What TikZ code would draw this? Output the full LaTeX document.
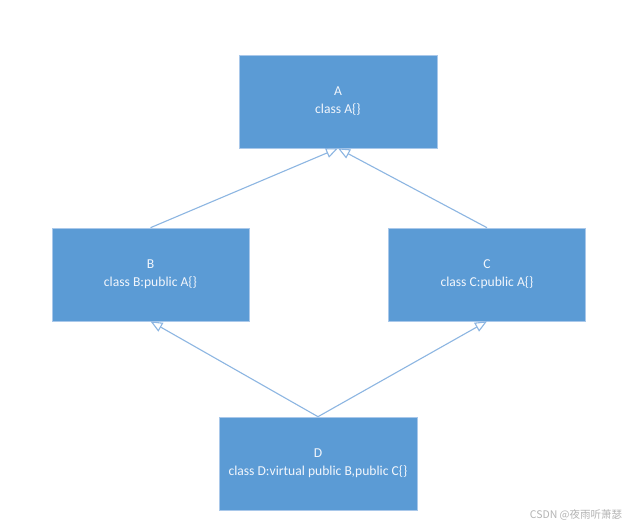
\documentclass[tikz,border=0pt]{standalone}
\usepackage{fontspec}
\setmainfont{Carlito}
\newfontfamily\cjkfont{Noto Sans CJK SC}
\usetikzlibrary{arrows.meta}
\definecolor{boxfill}{HTML}{5B9BD5}
\definecolor{boxline}{HTML}{A9C8EA}
\definecolor{arrowcol}{HTML}{8DB6E2}
\definecolor{txtcol}{HTML}{F2F6FC}
\definecolor{wmcol}{HTML}{B4B4B4}
\tikzset{
  classbox/.style={draw=boxline, line width=0.6pt, fill=boxfill, minimum width=197pt, minimum height=93pt,
    inner sep=0pt, text=txtcol, font=\fontsize{13.6}{18}\selectfont, align=center},
  inherit/.style={draw=arrowcol, line width=1.1pt, -{Triangle[open, length=12pt, width=10pt]}},
  wmark/.style={text=wmcol, font=\cjkfont\fontsize{10.5}{12}\selectfont, inner sep=0pt}
}
\begin{document}
\begin{tikzpicture}[x=1pt,y=1pt]
\useasboundingbox (0,0) rectangle (633,527);
\fill[white] (0,0) rectangle (633,527);
\node[classbox, minimum width=198pt] (A) at (338,425.5) {A\\class A\{\}};
\node[classbox] (B) at (150.5,252.5) {B\\class B:public A\{\}};
\node[classbox] (C) at (487,252.5) {C\\class C:public A\{\}};
\node[classbox, minimum width=198pt] (D) at (318,63.5) {D\\class D:virtual public B,public C\{\}};
\draw[inherit] (B.north) -- (A.south);
\draw[inherit] (C.north) -- (A.south);
\draw[inherit] (D.north) -- (B.south);
\draw[inherit] (D.north) -- (C.south);
\node[wmark] (wm) at (576,12) {CSDN @夜雨听萧瑟};
\end{tikzpicture}
\end{document}
